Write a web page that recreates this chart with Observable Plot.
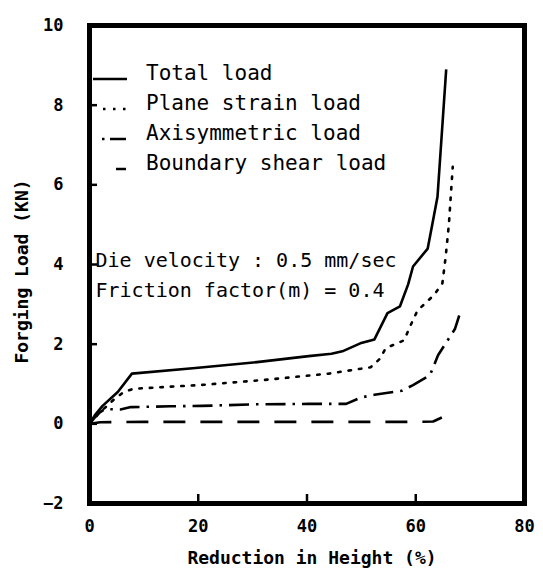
<!DOCTYPE html>
<html><head><meta charset="utf-8">
<script src="https://cdn.jsdelivr.net/npm/d3@7"></script>
<script src="https://cdn.jsdelivr.net/npm/@observablehq/plot@0.6"></script>
<style>
body{margin:0;background:#fff}
svg{display:block}
</style>
</head><body><div id="chart"></div>
<script>
// ---- data ----
const xTicks = [0, 20, 40, 60, 80];
const yTicks = [-2, 0, 2, 4, 6, 8, 10];
const xInnerTicks = [20, 40, 60];
const yInnerTicks = [0, 2, 4, 6, 8];

const totalX = [0, 1, 2.4, 5.2, 7.8, 19.5, 30.8, 40.3, 44.5, 46.5, 49.8, 52.4, 54.8, 57.1, 58.6, 59.5, 62.2, 63.1, 64.0, 65.6];
const totalY = [0, 0.22, 0.45, 0.8, 1.26, 1.4, 1.55, 1.7, 1.76, 1.82, 2.02, 2.12, 2.78, 2.95, 3.5, 3.95, 4.4, 5.05, 5.7, 8.9];

const planeX = [0, 2, 4.4, 6.3, 8.1, 21, 32, 44, 51.7, 53.3, 54.5, 57.9, 58.8, 60.3, 63.4, 64.9, 65.5, 66.1, 66.8];
const planeY = [0, 0.3, 0.6, 0.8, 0.88, 0.98, 1.1, 1.26, 1.42, 1.62, 1.9, 2.1, 2.4, 2.84, 3.24, 3.53, 4.19, 5.02, 6.45];

const axiX = [0, 1.5, 2.8, 5.7, 7.6, 14.9, 20.6, 30.7, 40.2, 47.2, 49.9, 52.4, 57.4, 59.5, 62.6, 64.1, 67.2, 68.0];
const axiY = [0, 0.25, 0.37, 0.36, 0.42, 0.44, 0.45, 0.49, 0.5, 0.5, 0.66, 0.73, 0.83, 0.97, 1.22, 1.72, 2.38, 2.72];

const shearX = [0, 2, 10, 30, 50, 60, 63.2, 64.8];
const shearY = [0, 0.04, 0.05, 0.05, 0.05, 0.05, 0.06, 0.16];

const seriesNames = ["Total load", "Plane strain load", "Axisymmetric load", "Boundary shear load"];
const seriesDash = [null, "2.5,8", "20,7,2.5,7", "22,15"];
const legendSymbols = ["solid", "dots", "dashdot", "dash"];
const annotation = ["Die velocity : 0.5 mm/sec", "Friction factor(m) = 0.4"];
const xLabel = "Reduction in Height (%)";
const yLabel = "Forging Load (KN)";

const toRows = (name, xs, ys) => xs.map((x, i) => ({series: name, x, y: ys[i]}));
const seriesData = [
  toRows(seriesNames[0], totalX, totalY),
  toRows(seriesNames[1], planeX, planeY),
  toRows(seriesNames[2], axiX, axiY),
  toRows(seriesNames[3], shearX, shearY)
];

// ---- layout ----
const W = 543, H = 578, mL = 89, mR = 19, mT = 25, mB = 75;
const innerW = W - mL - mR, innerH = H - mT - mB;
const FONT = "'DejaVu Sans Mono', 'Liberation Mono', monospace";

const chart = Plot.plot({
  width: W, height: H,
  marginLeft: mL, marginRight: mR, marginTop: mT, marginBottom: mB,
  style: {fontFamily: FONT, background: "white", color: "black", overflow: "visible"},
  x: {domain: [0, 80], ticks: xTicks},
  y: {domain: [-2, 10], ticks: yTicks},
  marks: [
    Plot.axisX({ticks: xTicks, tickSize: 0, tickPadding: 16, fontSize: 17, fontWeight: "bold", label: null}),
    Plot.axisY({ticks: yTicks, tickSize: 0, tickPadding: 26, fontSize: 17, fontWeight: "bold", label: null}),
    Plot.tickX(xInnerTicks, {x: d => d, insetTop: innerH - 9, strokeWidth: 2.5}),
    Plot.tickY(yInnerTicks, {y: d => d, insetRight: innerW - 8, strokeWidth: 2.5}),
    ...seriesData.map((rows, i) => Plot.line(rows, {
      x: "x", y: "y", stroke: "black", strokeWidth: 2.6,
      strokeDasharray: seriesDash[i], strokeLinecap: i === 1 ? "round" : "butt", strokeLinejoin: "round"
    })),
    Plot.text([annotation.join("\n")], {
      frameAnchor: "top-left", dx: 6, dy: 220, textAnchor: "start", lineAnchor: "top",
      fontSize: 20, lineHeight: 1.5, fontFamily: FONT
    }),
    Plot.text([xLabel], {frameAnchor: "bottom", textAnchor: "middle", dy: 60, dx: 5, fontSize: 18, fontWeight: "bold", fontFamily: FONT}),
    Plot.text([yLabel], {frameAnchor: "left", textAnchor: "middle", dx: -67, dy: 7, rotate: -90, fontSize: 18, fontWeight: "bold", fontFamily: FONT}),
    Plot.frame({stroke: "black", strokeWidth: 5})
  ]
});

// legend drawn inside the frame (top-left)
const svg = d3.select(chart);
const lg = svg.append("g").attr("font-family", FONT).attr("font-size", 21).attr("text-anchor", "start");
seriesNames.forEach((name, i) => {
  const cy = 73 + i * 30;
  lg.append("text").attr("x", 146).attr("y", cy).attr("dy", "0.35em").attr("text-anchor", "start").text(name);
  const sym = legendSymbols[i];
  const ly = cy + 6;
  if (sym === "solid") lg.append("line").attr("x1", 93).attr("x2", 127).attr("y1", ly).attr("y2", ly).attr("stroke", "black").attr("stroke-width", 2.5);
  if (sym === "dots") lg.append("line").attr("x1", 103).attr("x2", 127).attr("y1", ly).attr("y2", ly).attr("stroke", "black").attr("stroke-width", 2.5).attr("stroke-dasharray", "2.5,7.5");
  if (sym === "dashdot") {
    lg.append("line").attr("x1", 102).attr("x2", 104.5).attr("y1", ly).attr("y2", ly).attr("stroke", "black").attr("stroke-width", 2.5);
    lg.append("line").attr("x1", 110).attr("x2", 126).attr("y1", ly).attr("y2", ly).attr("stroke", "black").attr("stroke-width", 2.5);
  }
  if (sym === "dash") lg.append("line").attr("x1", 116).attr("x2", 126).attr("y1", ly).attr("y2", ly).attr("stroke", "black").attr("stroke-width", 2.5);
});

document.getElementById("chart").append(chart);
</script>
</body></html>
